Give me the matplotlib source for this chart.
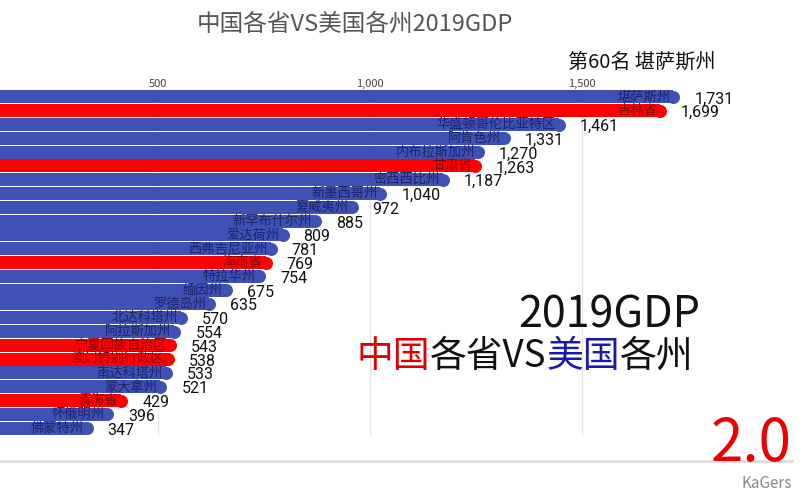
import matplotlib.pyplot as plt

plt.rcParams['font.family'] = ['Noto Sans CJK SC', 'DejaVu Sans']

# data: GDP 2019 (billion USD), rank 36-60
names = ['堪萨斯州', '吉林省', '华盛顿哥伦比亚特区', '阿肯色州', '内布拉斯加州', '甘肃省',
         '密西西比州', '新墨西哥州', '夏威夷州', '新罕布什尔州', '爱达荷州', '西弗吉尼亚州',
         '海南省', '特拉华州', '缅因州', '罗德岛州', '北达科塔州', '阿拉斯加州',
         '宁夏回族自治区', '澳门特别行政区', '南达科塔州', '蒙大拿州', '青海省', '怀俄明州', '佛蒙特州']
values = [1731, 1699, 1461, 1331, 1270, 1263, 1187, 1040, 972, 885, 809, 781, 769, 754,
          675, 635, 570, 554, 543, 538, 533, 521, 429, 396, 347]
groups = ['us', 'cn', 'us', 'us', 'us', 'cn', 'us', 'us', 'us', 'us', 'us', 'us', 'cn', 'us',
          'us', 'us', 'us', 'us', 'cn', 'cn', 'us', 'us', 'cn', 'us', 'us']
ticks = [500, 1000, 1500]

bar_colors = {'us': '#3f51b5', 'cn': '#ff0000'}
name_colors = {'us': '#1c2266', 'cn': '#8a0000'}

W, H, DPI = 800, 500, 100
fig = plt.figure(figsize=(W / DPI, H / DPI), dpi=DPI)

# axes: zero sits just outside the left edge (the chart is cropped)
ax_left_px, ax_right_px = -54, 794
ax_top_px, ax_bot_px = 90, 435
xmax = 2000
ax = fig.add_axes([ax_left_px / W, 1 - ax_bot_px / H,
                   (ax_right_px - ax_left_px) / W, (ax_bot_px - ax_top_px) / H])
ax.set_xlim(0, xmax)
n = len(values)
ax.set_ylim(n - 0.5, -0.5)

px_per_unit = (ax_right_px - ax_left_px) / xmax
row_px = (ax_bot_px - ax_top_px) / n
bar_h = 0.94
r_px = bar_h * row_px / 2
r_data = r_px / px_per_unit
diam_pt = 2 * r_px * 72 / DPI

for i, (nm, v, g) in enumerate(zip(names, values, groups)):
    c = bar_colors[g]
    # bar + round cap
    ax.barh(i, v - r_data, height=bar_h, color=c, linewidth=0, zorder=2)
    ax.scatter([v - r_data], [i], s=diam_pt ** 2, color=c, linewidths=0, zorder=2)
    ax.annotate(nm, (v, i), xytext=(-7, 0), textcoords='offset points',
                ha='right', va='center', fontsize=9.5, color=name_colors[g], zorder=3)
    ax.annotate(f'{v:,}', (v, i), xytext=(10.5, -1.5), textcoords='offset points',
                ha='left', va='center', fontsize=11.5, color='#111111',
                family=['Roboto', 'DejaVu Sans'], zorder=3)

ax.xaxis.tick_top()
ax.set_xticks(ticks)
ax.set_xticklabels([f'{t:,}' for t in ticks], fontsize=8, color='#444444')
ax.tick_params(axis='x', length=0, pad=1)
ax.set_yticks([])
ax.grid(axis='x', color='#e6e6e6', linewidth=1, zorder=0)
ax.set_axisbelow(True)
for s in ax.spines.values():
    s.set_visible(False)

# bottom rule
fig.add_artist(plt.Line2D([0, 792 / W], [1 - 461 / H] * 2, color='#dddddd', linewidth=2))

# titles
fig.text(355 / W, 1 - 24 / H, '中国各省VS美国各州2019GDP', ha='center', va='center',
         fontsize=17, color='#555555')
fig.text(715 / W, 1 - 62 / H, '第60名 堪萨斯州', ha='right', va='center',
         fontsize=14.5, color='#111111')

fig.text(700 / W, 1 - 328 / H, '2019GDP', ha='right', va='baseline',
         fontsize=31, color='#111111')

# multicolour subtitle, chained left to right
parts = [('中国', '#e00000'), ('各省VS', '#111111'), ('美国', '#1a1aa8'), ('各州', '#111111')]
prev = fig.text(356 / W, 1 - 376 / H, parts[0][0], ha='left', va='bottom',
                fontsize=26.5, color=parts[0][1])
for txt, col in parts[1:]:
    prev = ax.annotate(txt, xy=(1, 0), xycoords=prev, ha='left', va='bottom',
                       fontsize=26.5, color=col, annotation_clip=False)

fig.text(792 / W, 1 - 461 / H, '2.0', ha='right', va='baseline',
         fontsize=42, color='#ee0000')
fig.text(792 / W, 1 - 483 / H, 'KaGers', ha='right', va='center',
         fontsize=11, color='#888888')

fig.savefig('out.png', dpi=DPI)
